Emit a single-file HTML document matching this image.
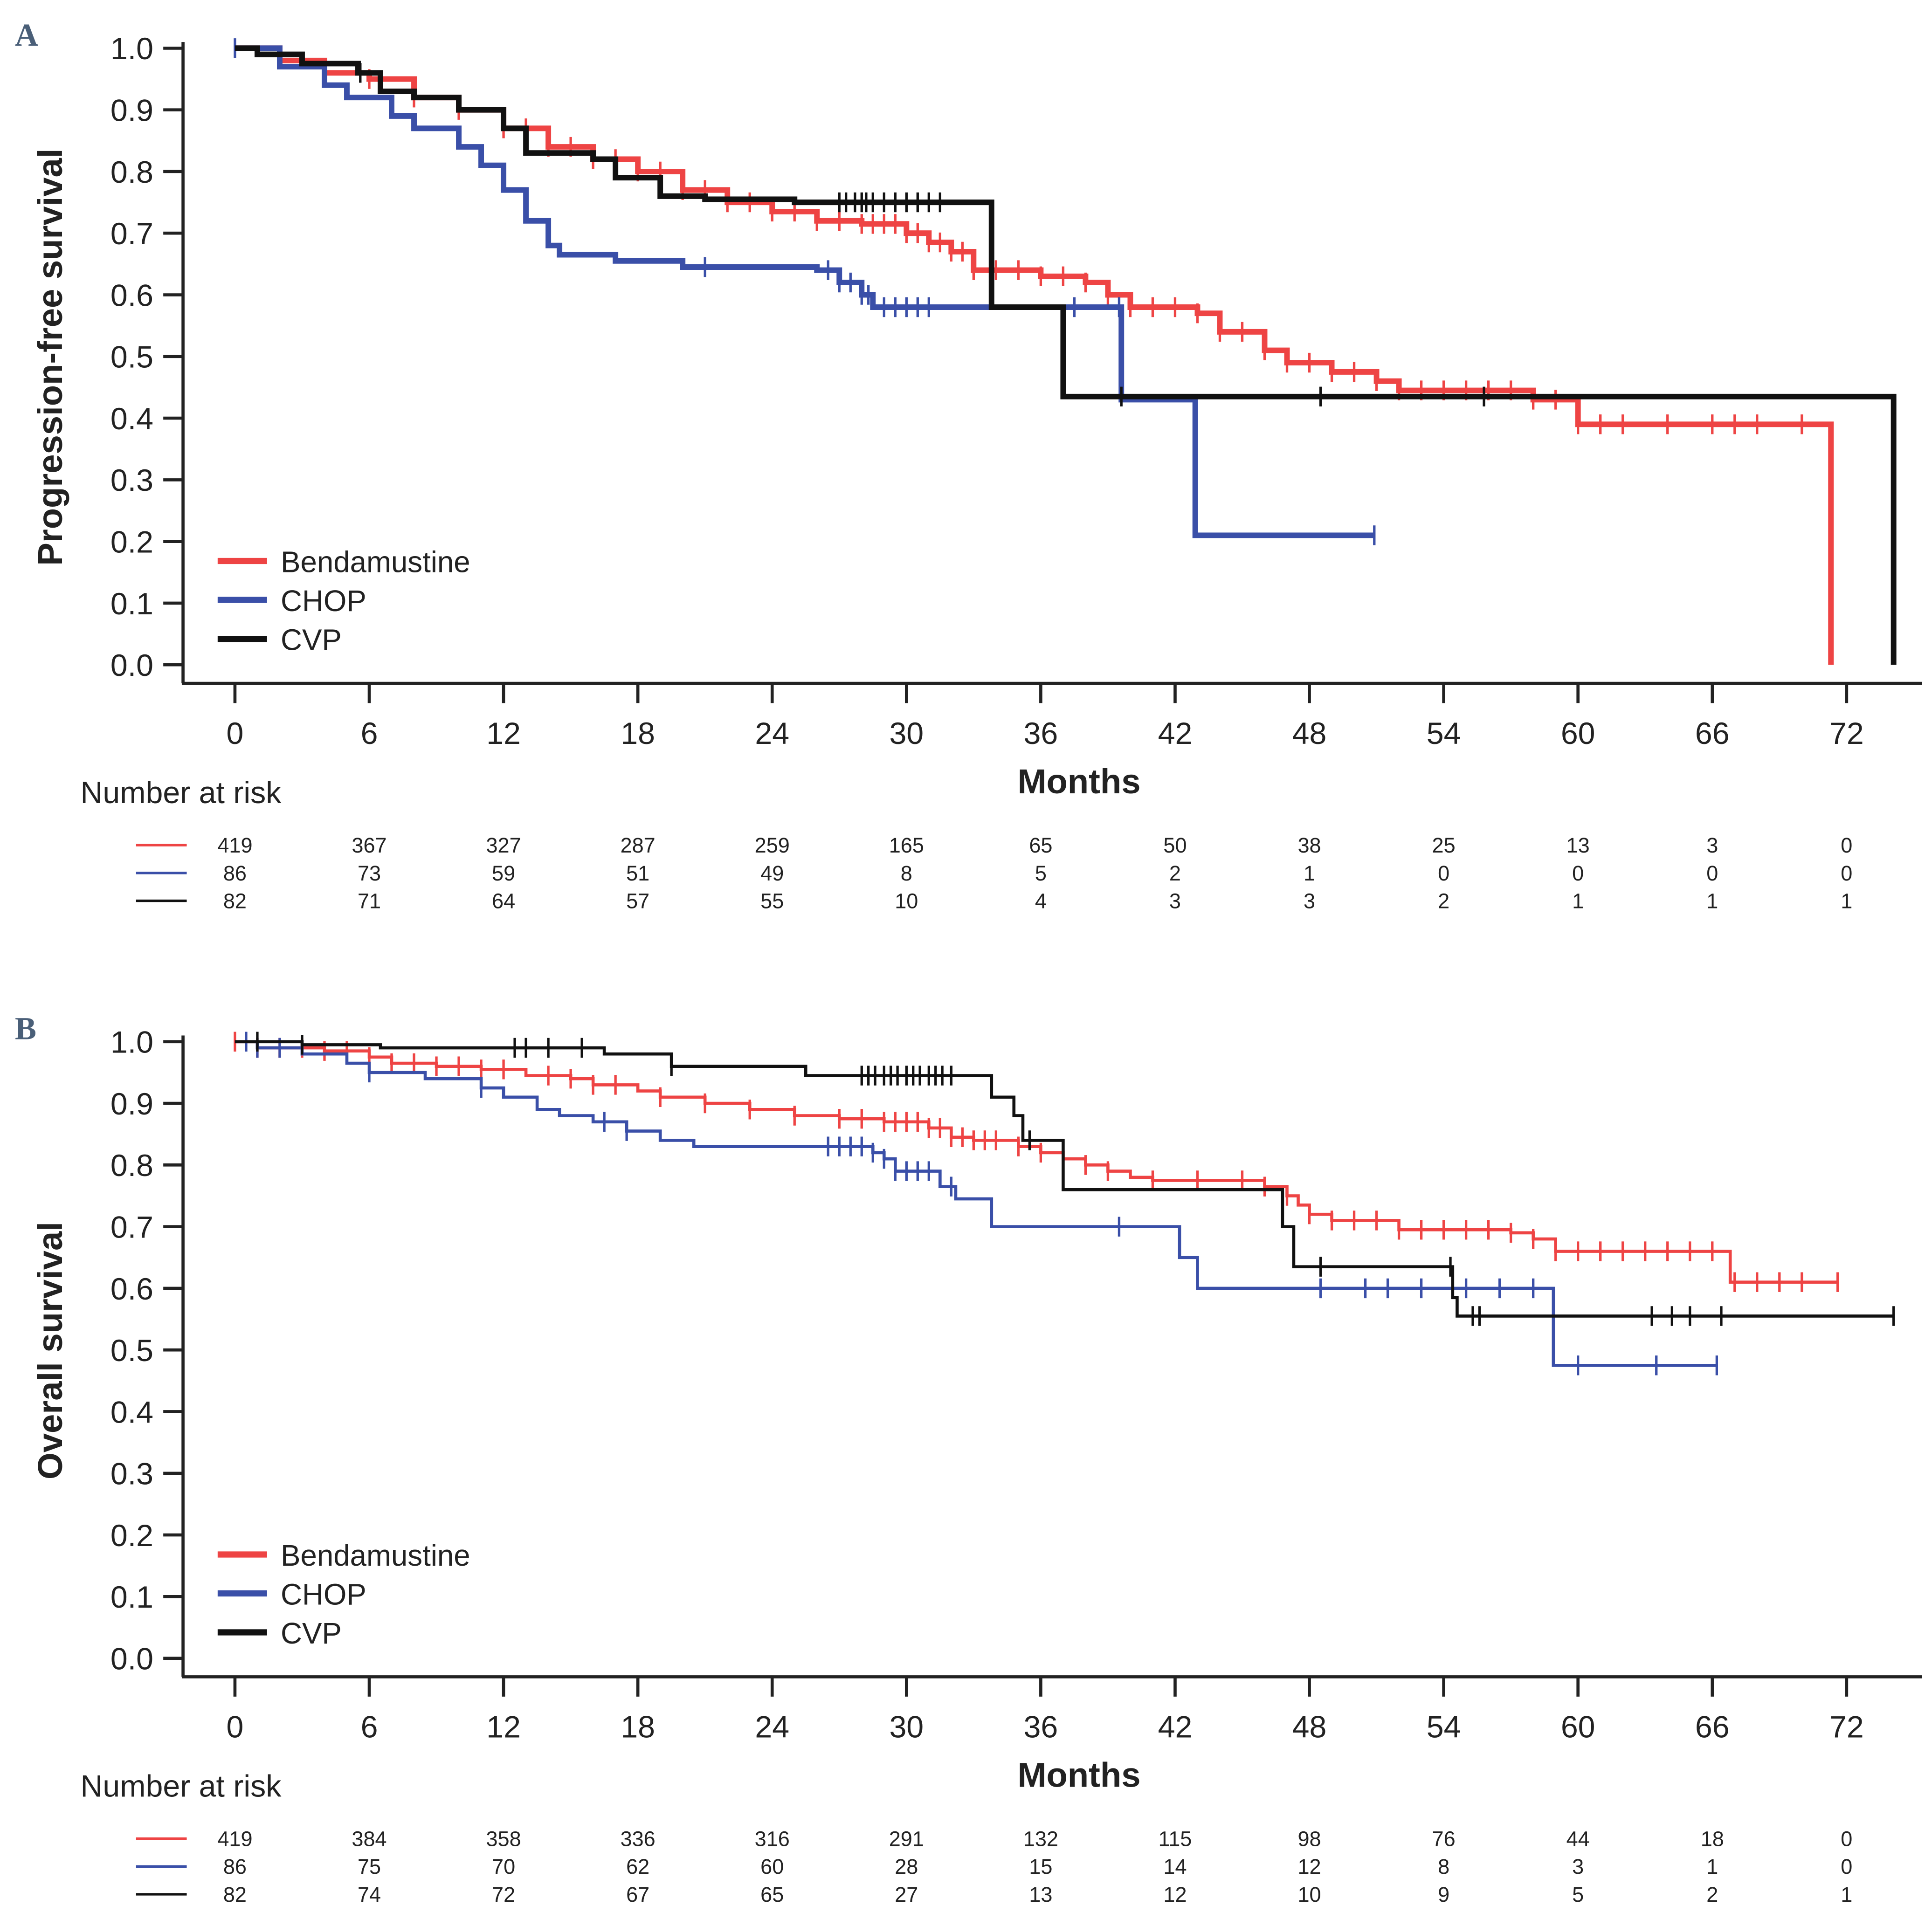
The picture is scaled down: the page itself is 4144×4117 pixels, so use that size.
<!DOCTYPE html>
<html><head><meta charset="utf-8"><style>
html,body{margin:0;padding:0;background:#fff;}
svg{display:block;font-family:"Liberation Sans",sans-serif;}
</style></head><body>
<svg id="chart" width="4144" height="4117" viewBox="0 0 1563 1553" xmlns="http://www.w3.org/2000/svg"></svg>
<script>
// ---- data ----
const monthTicks = [0,6,12,18,24,30,36,42,48,54,60,66,72];
const survTicks = [0,0.1,0.2,0.3,0.4,0.5,0.6,0.7,0.8,0.9,1.0];
const seriesNames = ["Bendamustine","CHOP","CVP"];
const seriesColors = ["#ee4444","#3a4fa8","#111111"];

const pfsBendaT = [0,2,4,6,8,10,12,14,16,18,20,22,24,26,28,30,31,32,33,36,38,39,40,43,44,46,47,49,51,52,58,60,71.3];
const pfsBendaS = [1,.98,.96,.95,.92,.90,.87,.84,.82,.80,.77,.75,.735,.72,.715,.70,.685,.67,.64,.63,.62,.60,.58,.57,.54,.51,.49,.475,.46,.445,.43,.39,0];
const pfsBendaCens = [6,8,10,12,13,14,15,16,17,18,19,20,21,22,23,24,25,26,27,28,28.5,29,29.5,30,30.5,31,31.5,32,32.5,33,34,35,36,37,38,39,40,41,42,43,44,45,46,47,48,49,50,51,52,53,54,55,56,57,58,59,60,61,62,64,66,67,68,70];
const pfsBendaEnd = 71.3;

const pfsChopT = [0,2,4,5,7,8,10,11,12,13,14,14.5,17,20,26,27,28,28.5,39.6,42.9];
const pfsChopS = [1,.97,.94,.92,.89,.87,.84,.81,.77,.72,.68,.665,.655,.645,.64,.62,.60,.58,.43,.21];
const pfsChopCens = [0,21,26.5,27,27.5,28,28.3,29,29.5,30,30.5,31,37.5,39.5,50.9];
const pfsChopEnd = 50.9;

const pfsCvpT = [0,1,3,5.5,6.5,8,10,12,13,16,17,19,21,25,33.8,37,74.1];
const pfsCvpS = [1,.99,.975,.96,.93,.92,.90,.87,.83,.82,.79,.76,.755,.75,.58,.435,0];
const pfsCvpCens = [5.6,27,27.3,27.7,28,28.2,28.5,29,29.5,30,30.5,31,31.5,39.6,48.5,55.8];
const pfsCvpEnd = 74.1;

const osBendaT = [0,1,4,6,7,9,11,13,15,16,18,19,21,23,25,27,29,31,32,33,35,36,37,38,39,40,41,46,47,47.5,48,49,52,57,58,59,66.8];
const osBendaS = [1,.99,.985,.975,.965,.96,.955,.945,.94,.93,.92,.91,.90,.89,.88,.875,.87,.86,.845,.84,.83,.82,.81,.80,.79,.78,.775,.765,.75,.735,.72,.71,.695,.69,.68,.66,.61];
const osBendaCens = [0,1,2,3,4,5,6,7,8,9,10,11,12,14,15,16,17,19,21,23,25,27,28,29,29.5,30,30.5,31,31.5,32,32.5,33,33.5,34,35,36,37,38,39,41,43,45,46,47,48,49,50,51,52,53,54,55,56,57,58,59,60,61,62,63,64,65,66,67,68,69,70,71.6];
const osBendaEnd = 71.6;

const osChopT = [0,1,3,5,6,8.5,11,12,13.5,14.5,16,17.5,19,20.5,28.5,29,29.5,31.5,32.2,33.8,42.2,43.0,58.9];
const osChopS = [1,.99,.98,.965,.95,.94,.925,.91,.89,.88,.87,.855,.84,.83,.82,.81,.79,.765,.745,.70,.65,.60,.475];
const osChopCens = [0.5,1,2,6,11,16.5,17.5,26.5,27,27.5,28,28.5,29,29.5,30,30.5,31,32,39.5,48.5,50.5,51.5,53,55,56.5,58,60,63.5,66.2];
const osChopEnd = 66.2;

const osCvpT = [0,3,6.5,16.5,19.5,25.5,33.8,34.8,35.2,37,46.8,47.3,54.4,54.6];
const osCvpS = [1,.995,.99,.98,.96,.945,.91,.88,.84,.76,.70,.635,.585,.555];
const osCvpCens = [1,3,12.5,13,14,15.5,19.5,28,28.3,28.6,29,29.3,29.6,30,30.3,30.6,31,31.3,31.6,32,35.5,48.5,54.3,55.3,55.6,63.3,64.2,65,66.4,74.1];
const osCvpEnd = 74.1;

const pfsRisk = [[419,367,327,287,259,165,65,50,38,25,13,3,0],[86,73,59,51,49,8,5,2,1,0,0,0,0],[82,71,64,57,55,10,4,3,3,2,1,1,1]];
const osRisk = [[419,384,358,336,316,291,132,115,98,76,44,18,0],[86,75,70,62,60,28,15,14,12,8,3,1,0],[82,74,72,67,65,27,13,12,10,9,5,2,1]];

// ---- drawing ----
const NS="http://www.w3.org/2000/svg";
const svg=document.getElementById('chart');
function el(tag,attrs,parent){const e=document.createElementNS(NS,tag);for(const k in attrs)e.setAttribute(k,attrs[k]);(parent||svg).appendChild(e);return e;}
const X0=190, PXM=(1494-190)/72;
function xs(t){return X0+t*PXM;}
function stepAt(T,S,t){let s=S[0];for(let i=0;i<T.length;i++){if(T[i]<=t)s=S[i];}return s;}

function panel(cfg){
  const top=cfg.top; // y of 1.0
  const ys=v=>top+(1-v)*499;
  const axisY=top+514;
  const g=el('g',{});
  
  
  const lab=el('text',{x:12,y:top-2,'font-size':26,'font-weight':'bold',fill:'#4a5f78','font-family':'Liberation Serif, serif'},g);
  lab.textContent=cfg.letter;
  
  
  // axes
  const ya=el('line',{x1:148,y1:top-5,x2:148,y2:axisY,stroke:'#222','stroke-width':2.5},g);
  
  
  const xa=el('line',{x1:147,y1:axisY,x2:1555,y2:axisY,stroke:'#222','stroke-width':2.5},g);
  
  
  survTicks.forEach(v=>{
    el('line',{x1:132,y1:ys(v),x2:148,y2:ys(v),stroke:'#222','stroke-width':2.5},g);
    const t=el('text',{x:124,y:ys(v)+9,'font-size':25,'text-anchor':'end',fill:'#222'},g);
    t.textContent=v.toFixed(1);
    
    
  });
  monthTicks.forEach(m=>{
    el('line',{x1:xs(m),y1:axisY,x2:xs(m),y2:axisY+16,stroke:'#222','stroke-width':2.5},g);
    const t=el('text',{x:xs(m),y:axisY+49,'font-size':25,'text-anchor':'middle',fill:'#222'},g);
    t.textContent=m;
    
    
  });
  const xt=el('text',{x:873,y:axisY+89,'font-size':28,'font-weight':'bold','text-anchor':'middle',fill:'#222'},g);
  xt.textContent='Months';
  
  
  const yc=top+250;
  const yt=el('text',{x:50,y:yc,'font-size':28,'font-weight':'bold','text-anchor':'middle',fill:'#222',transform:'rotate(-90 50 '+yc+')'},g);
  yt.textContent=cfg.ytitle;
  
  
  // series
  cfg.series.forEach((s,i)=>{
    let d='M'+xs(s.T[0])+','+ys(s.S[0]);
    for(let k=1;k<s.T.length;k++){d+=' H'+xs(s.T[k])+' V'+ys(s.S[k]);}
    if(s.S[s.S.length-1]>0) d+=' H'+xs(s.end);
    const p=el('path',{d:d,fill:'none',stroke:seriesColors[i],'stroke-width':cfg.sw},g);
    
    
    s.C.forEach(t=>{
      const y=ys(stepAt(s.T,s.S,t));
      const c=el('line',{x1:xs(t),y1:y-8,x2:xs(t),y2:y+8,stroke:seriesColors[i],'stroke-width':2},g);
      
      
    });
  });
  // legend
  seriesNames.forEach((n,i)=>{
    const ly=top+415+i*31.5;
    const l=el('line',{x1:176,y1:ly,x2:216,y2:ly,stroke:seriesColors[i],'stroke-width':5},g);
    
    
    const t=el('text',{x:227,y:ly+9,'font-size':24,fill:'#222'},g);
    t.textContent=n;
    
    
  });
  // number at risk
  const nr=el('text',{x:65,y:axisY+97,'font-size':25,fill:'#222'},g);
  nr.textContent='Number at risk';
  
  
  cfg.risk.forEach((row,i)=>{
    const ry=axisY+131+i*22.5;
    el('line',{x1:110,y1:ry,x2:151,y2:ry,stroke:seriesColors[i],'stroke-width':2},g);
    row.forEach((v,j)=>{
      const t=el('text',{x:xs(monthTicks[j]),y:ry+6,'font-size':17,'text-anchor':'middle',fill:'#222'},g);
      t.textContent=v;
      
      
    });
  });
}
panel({name:'pfs',letter:'A',top:39,ytitle:'Progression-free survival',sw:4.5,risk:pfsRisk,series:[
  {T:pfsBendaT,S:pfsBendaS,C:pfsBendaCens,end:pfsBendaEnd},
  {T:pfsChopT,S:pfsChopS,C:pfsChopCens,end:pfsChopEnd},
  {T:pfsCvpT,S:pfsCvpS,C:pfsCvpCens,end:pfsCvpEnd}]});
panel({name:'os',letter:'B',top:843,ytitle:'Overall survival',sw:2.5,risk:osRisk,series:[
  {T:osBendaT,S:osBendaS,C:osBendaCens,end:osBendaEnd},
  {T:osChopT,S:osChopS,C:osChopCens,end:osChopEnd},
  {T:osCvpT,S:osCvpS,C:osCvpCens,end:osCvpEnd}]});
</script>
</body></html>
